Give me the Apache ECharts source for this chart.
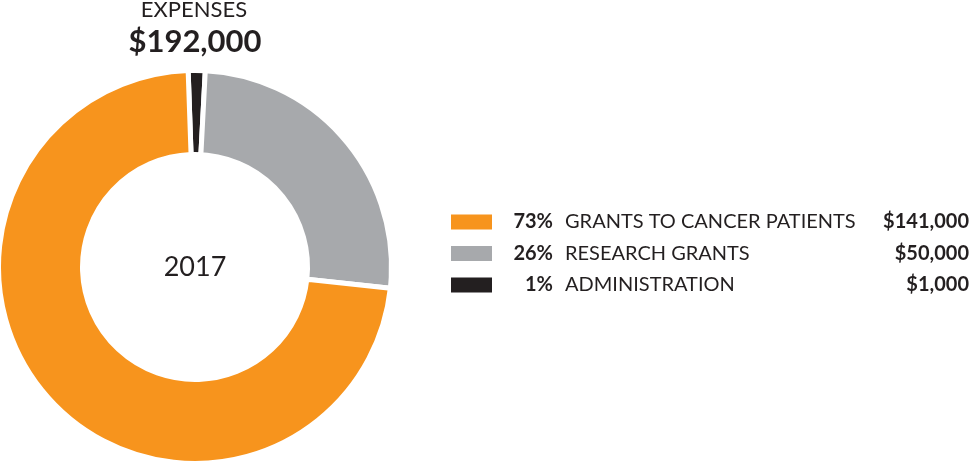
<!DOCTYPE html>
<html>
<head>
<meta charset="utf-8">
<script src="https://cdn.jsdelivr.net/npm/echarts@6/dist/echarts.min.js"></script>
<style>
html,body{margin:0;padding:0;background:#fff;}
#chart{width:970px;height:462px;}
</style>
</head>
<body>
<div id="chart"></div>
<script>
const categories = ['GRANTS TO CANCER PATIENTS', 'RESEARCH GRANTS', 'ADMINISTRATION'];
const percents = [73, 26, 1];
const amounts = ['$141,000', '$50,000', '$1,000'];
const colors = ['#F7941D', '#A7A9AC', '#231F20'];
const titleLabel = 'EXPENSES';
const totalLabel = '$192,000';
const yearLabel = '2017';

// pie drawn clockwise starting with administration at the top
const order = [2, 1, 0];
const pieData = order.map(i => ({
  name: categories[i],
  value: percents[i],
  itemStyle: { color: colors[i] }
}));

const chart = echarts.init(document.getElementById('chart'), null, { renderer: 'canvas' });
const FONT = 'Lato';
const FS = 20;
const common = {
  orient: 'vertical',
  top: 212,
  padding: 0,
  itemHeight: 15,
  itemGap: 11.5,
  icon: 'rect',
  selectedMode: false
};
chart.setOption({
  backgroundColor: '#ffffff',
  animation: false,
  legend: [
    Object.assign({}, common, {
      left: 451,
      itemWidth: 41,
      itemStyle: { borderWidth: 0 },
      data: categories.map((c, i) => ({ name: c, itemStyle: { color: colors[i], borderWidth: 0 } })),
      formatter: function (name) { return '{s|}{n|' + name + '}'; },
      textStyle: {
        fontFamily: FONT, fontSize: FS, color: '#231F20',
        rich: {
          s: { width: 68 },
          n: { fontFamily: FONT, fontSize: FS, color: '#231F20' }
        }
      }
    }),
    Object.assign({}, common, {
      right: 411,
      align: 'right',
      itemWidth: 1,
      itemStyle: { opacity: 0, borderWidth: 0 },
      data: categories.map(c => ({ name: c, itemStyle: { opacity: 0, borderWidth: 0 } })),
      formatter: function (name) { return percents[categories.indexOf(name)] + '%'; },
      textStyle: { fontFamily: FONT, fontSize: FS, fontWeight: 'bold', color: '#231F20' }
    }),
    Object.assign({}, common, {
      right: -5,
      align: 'right',
      itemWidth: 1,
      itemStyle: { opacity: 0, borderWidth: 0 },
      data: categories.map(c => ({ name: c, itemStyle: { opacity: 0, borderWidth: 0 } })),
      formatter: function (name) { return amounts[categories.indexOf(name)]; },
      textStyle: { fontFamily: FONT, fontSize: FS, fontWeight: 'bold', color: '#231F20' }
    })
  ],
  series: [{
    type: 'pie',
    center: [195, 267],
    radius: [112.5, 196.5],
    startAngle: 92,
    clockwise: true,
    minAngle: 5,
    silent: true,
    label: { show: false },
    labelLine: { show: false },
    itemStyle: { borderColor: '#ffffff', borderWidth: 5 },
    data: pieData
  }],
  graphic: [
    { type: 'text', x: 194, y: 9.5, style: { text: titleLabel, fontFamily: FONT, fontSize: 22, fontWeight: 'normal', fill: '#231F20', textAlign: 'center', textVerticalAlign: 'middle' } },
    { type: 'text', x: 195, y: 41.5, style: { text: totalLabel, fontFamily: FONT, fontSize: 31, fontWeight: 'bold', fill: '#231F20', textAlign: 'center', textVerticalAlign: 'middle' } },
    { type: 'text', x: 195, y: 267, style: { text: yearLabel, fontFamily: FONT, fontSize: 27, fontWeight: 'normal', fill: '#231F20', textAlign: 'center', textVerticalAlign: 'middle' } }
  ]
});
</script>
</body>
</html>
